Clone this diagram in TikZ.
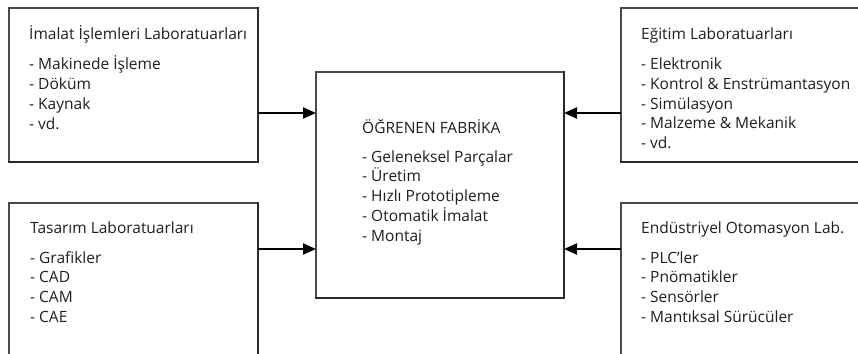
\documentclass[tikz,border=0pt]{standalone}
\usepackage{fontspec}
\setmainfont{Open Sans}
\usetikzlibrary{arrows.meta}
\definecolor{ink}{HTML}{1E1E1E}
\definecolor{rule}{HTML}{4A4A4A}
\definecolor{heavy}{HTML}{2A2A2A}

\begin{document}
\begin{tikzpicture}[x=1pt,y=-1pt,
  panel/.style={anchor=north west, inner sep=0pt, outer sep=0pt},
  lite/.style={draw=rule, line width=1.5pt, line cap=rect},
  shade/.style={draw=heavy, line width=2.8pt, line cap=rect},
  flow/.style={draw=black, line width=2.2pt, -{Triangle[length=13pt,width=11pt]}},
  heading/.style={anchor=base west, inner sep=0pt, text=ink, font=\fontsize{15.5}{19.8}\selectfont},
  items/.style={anchor=base west, inner sep=0pt, text=ink, font=\fontsize{15.5}{19.8}\selectfont},
]
\useasboundingbox (0,0) rectangle (858,353);
\begin{scope}
\clip (0,0) rectangle (858,353);

% frames
\node[panel, minimum width=249pt, minimum height=154pt] (imalat) at (9,8) {};
\node[panel, minimum width=260pt, minimum height=154pt] (egitim) at (621,8) {};
\node[panel, minimum width=249pt, minimum height=170pt] (tasarim) at (9,203) {};
\node[panel, minimum width=260pt, minimum height=170pt] (otomasyon) at (621,203) {};
\node[panel, minimum width=248pt, minimum height=226pt] (fabrika) at (316,72) {};

% thin top and left edges, heavier right and bottom edges
\foreach \b in {imalat,egitim,tasarim,otomasyon,fabrika}{
  \draw[lite] (\b.south west) -- (\b.north west) -- (\b.north east);
  \draw[shade] (\b.north east) -- (\b.south east) -- (\b.south west);
}

% texts
\node[heading] (imalatT) at (29,40) {İmalat İşlemleri Laboratuarları};
\node[items] (imalatL) at (29,70) {\begin{tabular}[t]{@{}l@{}}- Makinede İşleme\\- Döküm\\- Kaynak\\- vd.\end{tabular}};

\node[heading] (egitimT) at (641,39.5) {Eğitim Laboratuarları};
\node[items] (egitimL) at (641,69.5) {\begin{tabular}[t]{@{}l@{}}- Elektronik\\- Kontrol \& Enstrümantasyon\\- Simülasyon\\- Malzeme \& Mekanik\\- vd.\end{tabular}};

\node[heading] (tasarimT) at (30,233) {Tasarım Laboratuarları};
\node[items] (tasarimL) at (30,263) {\begin{tabular}[t]{@{}l@{}}- Grafikler\\- CAD\\- CAM\\- CAE\end{tabular}};

\node[heading] (otomasyonT) at (641,233) {Endüstriyel Otomasyon Lab.};
\node[items] (otomasyonL) at (641,263) {\begin{tabular}[t]{@{}l@{}}- PLC’ler\\- Pnömatikler\\- Sensörler\\- Mantıksal Sürücüler\end{tabular}};

\node[heading] (fabrikaT) at (362,133) {ÖĞRENEN FABRİKA};
\node[items] (fabrikaL) at (362,162) {\begin{tabular}[t]{@{}l@{}}- Geleneksel Parçalar\\- Üretim\\- Hızlı Prototipleme\\- Otomatik İmalat\\- Montaj\end{tabular}};

% connectors
\coordinate (upper) at (0,113);
\coordinate (lower) at (0,249);
\draw[flow] (imalat.east |- upper) -- (fabrika.west |- upper);
\draw[flow] (tasarim.east |- lower) -- (fabrika.west |- lower);
\draw[flow] (egitim.west |- upper) -- (fabrika.east |- upper);
\draw[flow] (otomasyon.west |- lower) -- (fabrika.east |- lower);
\end{scope}
\end{tikzpicture}
\end{document}
